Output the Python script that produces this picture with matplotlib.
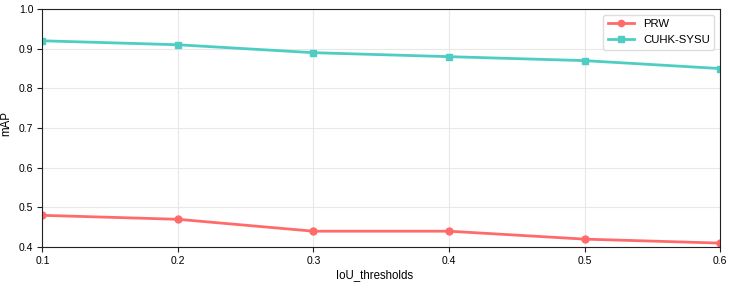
import matplotlib
matplotlib.use("Agg")
import matplotlib.pyplot as plt

plt.rcParams["font.family"] = ["Liberation Sans", "DejaVu Sans"]

iou_thresholds = [0.1, 0.2, 0.3, 0.4, 0.5, 0.6]
prw_map = [0.48, 0.47, 0.44, 0.44, 0.42, 0.41]
cuhk_map = [0.92, 0.91, 0.89, 0.88, 0.87, 0.85]

fig, ax = plt.subplots(figsize=(7.31, 2.83), dpi=100)
fig.subplots_adjust(left=0.058, right=0.985, top=0.968, bottom=0.127)

ax.plot(iou_thresholds, prw_map, color="#FF6B6B", marker="o", markersize=5, linewidth=2, label="PRW")
ax.plot(iou_thresholds, cuhk_map, color="#4ECDC4", marker="s", markersize=5, linewidth=2, label="CUHK-SYSU")

ax.set_xlim(0.1, 0.6)
ax.set_ylim(0.4, 1.0)
ax.set_xlabel("IoU_thresholds", fontsize=8.3)
ax.set_ylabel("mAP", fontsize=8.3)
ax.xaxis.set_label_coords(0.49, -0.092)
ax.yaxis.set_label_coords(-0.045, 0.52)
ax.tick_params(labelsize=7.5, direction="out", length=3.5, pad=3, color="#222222")
ax.grid(True, color="#e8e8e8", linewidth=0.8)
ax.set_axisbelow(True)
for s in ax.spines.values():
    s.set_color("#222222")
ax.legend(loc="upper right", fontsize=8.2, framealpha=1, edgecolor="#dddddd",
          handlelength=2.3, markerscale=0.9)

fig.savefig("out.png", dpi=100)
